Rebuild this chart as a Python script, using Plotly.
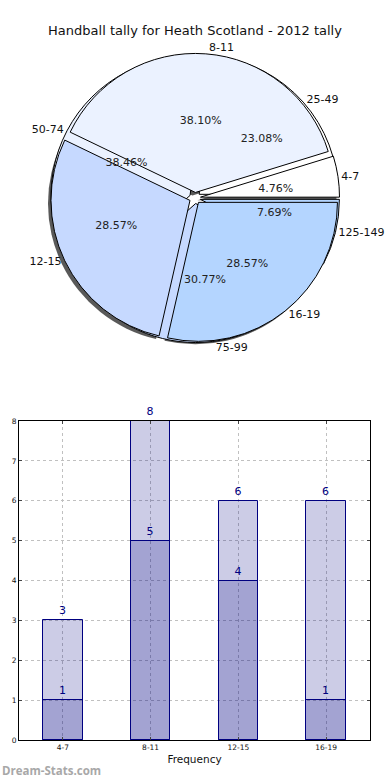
import plotly.graph_objects as go

# ---- data ----
pie1_labels = ["4-7", "8-11", "12-15", "16-19"]
pie1_values = [1, 8, 6, 6]
pie2_labels = ["25-49", "50-74", "75-99", "125-149"]
pie2_values = [3, 5, 4, 1]

bar_categories = ["4-7", "8-11", "12-15", "16-19"]
bar_total = [3, 8, 6, 6]
bar_part = [1, 5, 4, 1]

title_text = "Handball tally for Heath Scotland - 2012 tally"

# ---- styling ----
W, H = 390, 780
pie_colors = ["#ffffff", "#ebf2ff", "#c6d9ff", "#b4d5ff"]
PULL = 0.04
FONT = "DejaVu Sans"
BAR_FILL = "rgba(0,0,128,0.2)"
NAVY = "#000080"
TRANSPARENT = ["rgba(0,0,0,0)"] * 4

# pie geometry in pixels
cx, cy, r = 195, 198, 139
r_small = 55          # helper pie used to place some percentage texts near 0.6 r
pull_px = PULL * r


def dom(radius=r, dx=0, dy=0):
    half = radius + pull_px
    return dict(x=[(cx - half + dx) / W, (cx + half + dx) / W],
                y=[1 - (cy + half + dy) / H, 1 - (cy - half + dy) / H])


def rot(vals):
    # first slice starts at 3 o'clock and slices run counterclockwise
    return 90 - 360 * vals[0] / sum(vals)


def common(vals, radius=r):
    return dict(sort=False, direction="counterclockwise", rotation=rot(vals),
                hoverinfo="skip", showlegend=False, pull=pull_px / radius, automargin=False)


pct_font = dict(family=FONT, size=11, color="#222222")
fig = go.Figure()

# shadow
fig.add_trace(go.Pie(labels=pie1_labels, values=pie1_values, domain=dom(dx=-3, dy=3),
                     marker=dict(colors=["rgba(60,60,60,0.85)"] * 4, line=dict(width=0)),
                     textinfo="none", **common(pie1_values)))
# pie 2 fills
fig.add_trace(go.Pie(labels=pie2_labels, values=pie2_values, domain=dom(),
                     marker=dict(colors=pie_colors, line=dict(color="black", width=1)),
                     textinfo="none", **common(pie2_values)))
# pie 1 fills
fig.add_trace(go.Pie(labels=pie1_labels, values=pie1_values, domain=dom(),
                     marker=dict(colors=pie_colors, line=dict(color="black", width=1)),
                     textinfo="none", **common(pie1_values)))

# percentage texts (two placements so every text lands near the slice middle)
text_modes = [
    (pie1_labels, pie1_values, ["none", "inside", "none", "inside"], ["outside", "none", "outside", "none"]),
    (pie2_labels, pie2_values, ["inside", "inside", "inside", "none"], ["none", "none", "none", "outside"]),
]
for labs, vals, big_pos, small_pos in text_modes:
    fig.add_trace(go.Pie(labels=labs, values=vals, domain=dom(),
                         marker=dict(colors=TRANSPARENT, line=dict(width=0)),
                         texttemplate="%{percent:.2%}", textposition=big_pos,
                         insidetextorientation="horizontal", textfont=pct_font,
                         **common(vals)))
    fig.add_trace(go.Pie(labels=labs, values=vals, domain=dom(r_small),
                         marker=dict(colors=TRANSPARENT, line=dict(width=0)),
                         texttemplate="%{percent:.2%}", textposition=small_pos,
                         textfont=pct_font, **common(vals, r_small)))

# outside category labels
for labs, vals in [(pie1_labels, pie1_values), (pie2_labels, pie2_values)]:
    fig.add_trace(go.Pie(labels=labs, values=vals, domain=dom(),
                         marker=dict(colors=TRANSPARENT, line=dict(width=0)),
                         texttemplate="%{label}", textposition="outside",
                         textfont=dict(family=FONT, size=11, color="#111111"), **common(vals)))

# bars (semi-transparent navy, overlaid)
for vals in [bar_total, bar_part]:
    fig.add_trace(go.Bar(x=bar_categories, y=vals, width=0.45,
                         marker=dict(color=BAR_FILL, line=dict(color=NAVY, width=1)),
                         text=vals, textposition="outside", cliponaxis=False,
                         textfont=dict(family=FONT, size=11, color=NAVY),
                         hoverinfo="skip", showlegend=False, xaxis="x", yaxis="y"))

grid = dict(showgrid=True, gridcolor="#c0c0c0", griddash="dot", gridwidth=1)
fig.update_layout(
    width=W, height=H,
    margin=dict(l=0, r=0, t=0, b=0),
    paper_bgcolor="white", plot_bgcolor="white",
    font=dict(family=FONT, color="#111111"),
    barmode="overlay", bargap=0,
    title=dict(text=title_text, x=0.5, xanchor="center", y=1 - 30 / H, yanchor="middle",
               yref="container", font=dict(family=FONT, size=13, color="#111111")),
    xaxis=dict(domain=[19 / W, 370 / W], range=[-0.5, 3.5], type="category", automargin=False,
               tickfont=dict(size=7.5, family=FONT), ticks="inside", ticklen=3,
               showline=True, linecolor="black", mirror="ticks", zeroline=False,
               title=dict(text="Frequency", font=dict(size=10.5, family=FONT), standoff=4),
               **grid),
    yaxis=dict(domain=[1 - 740 / H, 1 - 421 / H], range=[0, 8], dtick=1, automargin=False,
               tickfont=dict(size=7.5, family=FONT), ticks="inside", ticklen=3,
               showline=True, linecolor="black", mirror="ticks", zeroline=False,
               **grid),
    annotations=[dict(text="<b>Dream-Stats.com</b>", x=0, y=1 - 770 / H, xref="paper", yref="paper",
                      xanchor="left", yanchor="middle", showarrow=False,
                      font=dict(family="Open Sans", size=11.5, color="#a8a8a8"))],
)

page_fix = ("document.documentElement.style.overflow='hidden';"
            "document.body.style.margin='0px';"
            "document.body.style.overflow='hidden';")
fig.write_html("out.html", post_script=page_fix, config={"displayModeBar": False})
